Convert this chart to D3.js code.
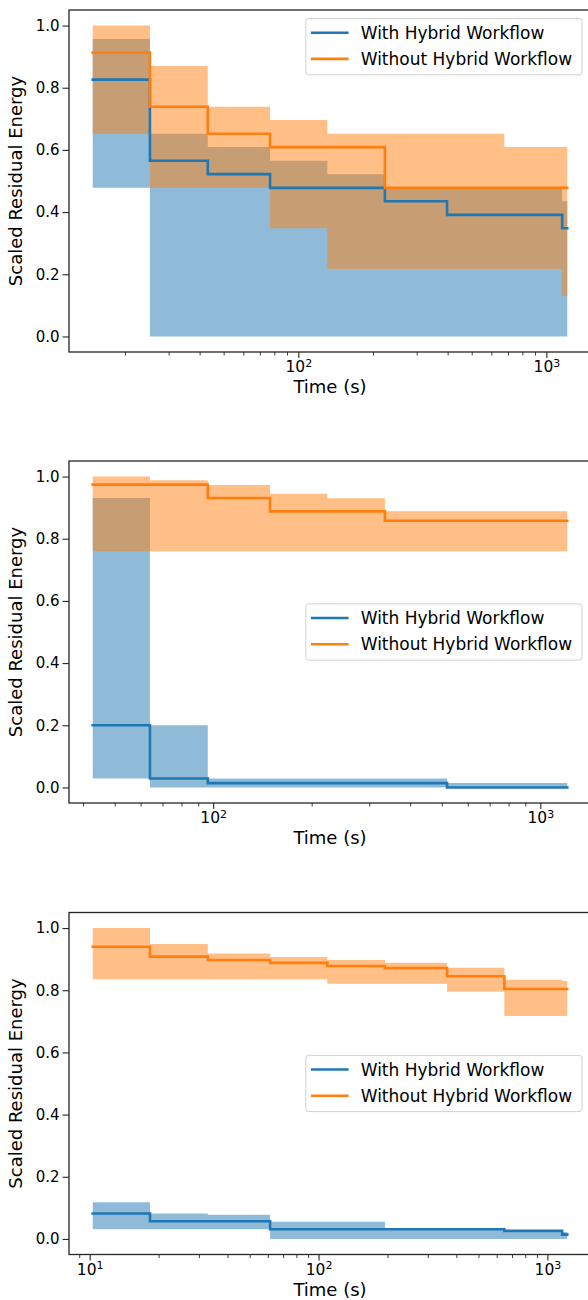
<!DOCTYPE html>
<html>
<head>
<meta charset="utf-8">
<script src="https://cdn.jsdelivr.net/npm/d3@7"></script>
<style>
  body { margin: 0; background: #fff; }
  svg { display: block; font-family: "DejaVu Sans", sans-serif; }
</style>
</head>
<body>
<div id="chart"></div>
<script>
// --- data (time in s, scaled residual energy) ---
var seriesNames = ["With Hybrid Workflow", "Without Hybrid Workflow"];
var yTicks = [0.0, 0.2, 0.4, 0.6, 0.8, 1.0];

var times1 = [14.83, 25.22, 43.15, 76.91, 130.9, 223.3, 397.7, 676.8, 1158, 1214];
var with1Mean = [0.826, 0.565, 0.522, 0.478, 0.478, 0.435, 0.391, 0.391, 0.348, 0.348];
var with1Lo = [0.478, 0, 0, 0, 0, 0, 0, 0, 0, 0];
var with1Hi = [0.957, 0.652, 0.609, 0.565, 0.522, 0.478, 0.478, 0.478, 0.435, 0.435];
var without1Mean = [0.913, 0.739, 0.652, 0.609, 0.609, 0.478, 0.478, 0.478, 0.478, 0.478];
var without1Lo = [0.652, 0.478, 0.478, 0.348, 0.217, 0.217, 0.217, 0.217, 0.130, 0.130];
var without1Hi = [1.0, 0.870, 0.739, 0.696, 0.652, 0.652, 0.652, 0.609, 0.609, 0.609];

var times2 = [42.83, 64.07, 96.27, 149.2, 223.3, 334.9, 518.7, 776.2, 1166, 1209];
var with2Mean = [0.200, 0.029, 0.014, 0.014, 0.014, 0.014, 0.0, 0.0, 0.0, 0.0];
var with2Lo = [0.029, 0, 0, 0, 0, 0, 0, 0, 0, 0];
var with2Hi = [0.931, 0.200, 0.029, 0.029, 0.029, 0.029, 0.014, 0.014, 0.014, 0.014];
var without2Mean = [0.974, 0.974, 0.931, 0.888, 0.888, 0.858, 0.858, 0.858, 0.858, 0.858];
var without2Lo = [0.760, 0.760, 0.760, 0.760, 0.760, 0.760, 0.760, 0.760, 0.760, 0.760];
var without2Hi = [1.0, 0.988, 0.973, 0.945, 0.930, 0.888, 0.888, 0.888, 0.888, 0.888];

var times3 = [10.31, 18.34, 32.82, 61.42, 109.2, 195.0, 364.4, 648.3, 1160, 1221];
var with3Mean = [0.082, 0.057, 0.057, 0.031, 0.031, 0.031, 0.031, 0.026, 0.014, 0.014];
var with3Lo = [0.031, 0.031, 0.031, 0, 0, 0, 0, 0, 0, 0];
var with3Hi = [0.118, 0.082, 0.078, 0.055, 0.055, 0.033, 0.033, 0.028, 0.022, 0.022];
var without3Mean = [0.940, 0.908, 0.897, 0.888, 0.878, 0.871, 0.845, 0.804, 0.804, 0.804];
var without3Lo = [0.835, 0.835, 0.835, 0.835, 0.821, 0.821, 0.795, 0.717, 0.717, 0.717];
var without3Hi = [1.0, 0.949, 0.918, 0.907, 0.897, 0.888, 0.872, 0.834, 0.830, 0.830];

var colors = ["#1f77b4", "#ff7f0e"];

var panels = [
  { top: 10, times: times1, legend: "upper",
    sets: [[with1Mean, with1Lo, with1Hi], [without1Mean, without1Lo, without1Hi]] },
  { top: 461, times: times2, legend: "center",
    sets: [[with2Mean, with2Lo, with2Hi], [without2Mean, without2Lo, without2Hi]] },
  { top: 912.5, times: times3, legend: "center",
    sets: [[with3Mean, with3Lo, with3Hi], [without3Mean, without3Lo, without3Hi]] }
];

var W = 588, H = 1300;
var left = 69, right = 591, ph = 342;

var svg = d3.select("#chart").append("svg")
  .attr("width", W)
  .attr("height", H);

// matplotlib style 5% margin in log space
var padLog = function (arr) {
  var lo = Math.log10(d3.min(arr)), hi = Math.log10(d3.max(arr));
  var p = (hi - lo) * 0.05;
  return [Math.pow(10, lo - p), Math.pow(10, hi + p)];
};

panels.forEach(function (p, k) {
  var top = p.top, bottom = p.top + ph;
  var x = d3.scaleLog().domain(padLog(p.times)).range([left, right]);
  var y = d3.scaleLinear().domain([-0.05, 1.05]).range([bottom, top]);

  var g = svg.append("g").attr("class", "panel");

  g.append("clipPath").attr("id", "clip" + k)
    .append("rect")
    .attr("x", left).attr("y", top)
    .attr("width", right - left).attr("height", ph);

  var plot = g.append("g").attr("clip-path", "url(#clip" + k + ")");

  var area = d3.area()
    .x(function (d) { return x(d.t); })
    .y0(function (d) { return y(d.lo); })
    .y1(function (d) { return y(d.hi); })
    .curve(d3.curveStepAfter);

  var line = d3.line()
    .x(function (d) { return x(d.t); })
    .y(function (d) { return y(d.m); })
    .curve(d3.curveStepAfter);

  var rows = p.sets.map(function (s) {
    return p.times.map(function (t, i) {
      return { t: t, m: s[0][i], lo: s[1][i], hi: s[2][i] };
    });
  });

  // bands first (blue then orange), lines on top
  rows.forEach(function (r, i) {
    plot.append("path")
      .attr("d", area(r))
      .attr("fill", colors[i])
      .attr("fill-opacity", 0.5);
  });
  rows.forEach(function (r, i) {
    plot.append("path")
      .attr("d", line(r))
      .attr("fill", "none")
      .attr("stroke", colors[i])
      .attr("stroke-width", 2.6)
      .attr("stroke-linecap", "square");
  });

  // y axis
  var yAxis = d3.axisLeft(y)
    .tickValues(yTicks)
    .tickFormat(d3.format(".1f"))
    .tickSize(6.5)
    .tickPadding(3);
  var ya = g.append("g")
    .attr("transform", "translate(" + left + ",0)")
    .call(yAxis);
  ya.select(".domain").remove();
  ya.selectAll("line").attr("stroke", "#262626").attr("stroke-width", 1.1);
  ya.selectAll("text")
    .attr("font-size", 15)
    .attr("fill", "#000")
    .attr("font-family", "DejaVu Sans");

  // x axis: decades with labels, minor ticks without
  var dom = x.domain();
  var majors = [], minors = [];
  for (var e = Math.floor(Math.log10(dom[0])); e <= Math.ceil(Math.log10(dom[1])); e++) {
    for (var m = 1; m < 10; m++) {
      var v = m * Math.pow(10, e);
      if (v < dom[0] || v > dom[1]) continue;
      if (m == 1) majors.push(v); else minors.push(v);
    }
  }

  var xMinor = g.append("g")
    .attr("transform", "translate(0," + bottom + ")")
    .call(d3.axisBottom(x).tickValues(minors).tickSize(3.5).tickFormat(""));
  xMinor.select(".domain").remove();
  xMinor.selectAll("line").attr("stroke", "#262626").attr("stroke-width", 0.9);

  var xMajor = g.append("g")
    .attr("transform", "translate(0," + bottom + ")")
    .call(d3.axisBottom(x).tickValues(majors).tickSize(6).tickFormat(""));
  xMajor.select(".domain").remove();
  xMajor.selectAll("line").attr("stroke", "#262626").attr("stroke-width", 1.1);
  xMajor.selectAll(".tick").each(function (d) {
    var t = d3.select(this).append("text")
      .attr("y", 20)
      .attr("text-anchor", "middle")
      .attr("fill", "#000")
      .attr("font-family", "DejaVu Sans")
      .attr("font-size", 15.5);
    t.append("tspan").text("10");
    t.append("tspan")
      .attr("font-size", 11)
      .attr("dy", -5.5)
      .text(Math.round(Math.log10(d)));
  });

  // spines
  g.append("rect")
    .attr("x", left).attr("y", top)
    .attr("width", right - left).attr("height", ph)
    .attr("fill", "none")
    .attr("stroke", "#262626")
    .attr("stroke-width", 1.3);

  // axis labels
  g.append("text")
    .attr("x", (left + right) / 2)
    .attr("y", bottom + 41)
    .attr("text-anchor", "middle")
    .attr("font-size", 18)
    .text("Time (s)");

  g.append("text")
    .attr("transform", "translate(22," + (top + ph / 2) + ") rotate(-90)")
    .attr("text-anchor", "middle")
    .attr("font-size", 18)
    .text("Scaled Residual Energy");

  // legend
  var lw = 276.2, lh = 56.3, lx = 305.8;
  var ly = p.legend == "upper" ? top + 8.5 : top + ph / 2 - lh / 2;
  var leg = g.append("g").attr("transform", "translate(" + lx + "," + ly + ")");
  leg.append("rect")
    .attr("width", lw).attr("height", lh)
    .attr("rx", 3)
    .attr("fill", "#fff").attr("fill-opacity", 0.8)
    .attr("stroke", "#d0d0d0").attr("stroke-width", 1);
  seriesNames.forEach(function (name, i) {
    var cy = 14.2 + i * 26.2;
    leg.append("line")
      .attr("x1", 5.1).attr("x2", 42.8)
      .attr("y1", cy).attr("y2", cy)
      .attr("stroke", colors[i]).attr("stroke-width", 2.6);
    leg.append("text")
      .attr("x", 54.9).attr("y", cy + 6)
      .attr("font-size", 17)
      .text(name);
  });
});
</script>
</body>
</html>
